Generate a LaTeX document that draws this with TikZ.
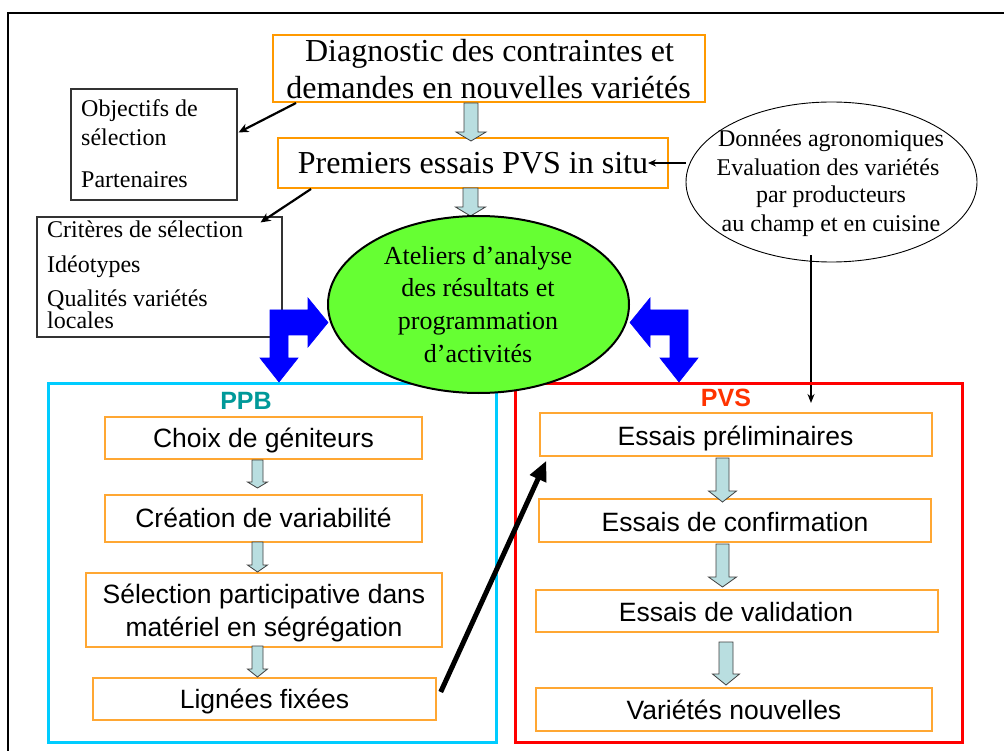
\documentclass[tikz,border=0pt]{standalone}
\usepackage{fontspec}
\setmainfont{Liberation Serif}
\setsansfont{Liberation Sans}
\usetikzlibrary{arrows.meta,calc,shapes.geometric}
\definecolor{topor}{HTML}{FF9900}
\definecolor{inor}{HTML}{FFA733}
\definecolor{ppbc}{HTML}{00CCFF}
\definecolor{ppbt}{HTML}{009999}
\definecolor{pvst}{HTML}{FF3300}
\definecolor{ellg}{HTML}{66FF33}
\definecolor{lbfill}{HTML}{B9DEE0}
\newcommand\rkBig{\fontsize{32}{37}\selectfont}
\newcommand\rkMed{\fontsize{24}{28}\selectfont}
\newcommand\rkEll{\fontsize{26}{32}\selectfont}
\newcommand\rkSans{\sffamily\fontsize{26.5}{33}\selectfont}
\newcommand\rkLab{\sffamily\bfseries\fontsize{25}{30}\selectfont}
\newcommand\rkDown[6]{\draw[lbarrow] ({#1-#5},#2) -- ({#1+#5},#2) -- ({#1+#5},#3) -- ({#1+#6},#3) -- (#1,#4) -- ({#1-#6},#3) -- ({#1-#5},#3) -- cycle;}
\begin{document}
\begin{tikzpicture}[x=1pt,y=-1pt,
  tl/.style={inner sep=0pt,anchor=base},
  tlw/.style={inner sep=0pt,anchor=base west},
  topbox/.style={draw=topor,line width=2pt,inner sep=0pt},
  inbox/.style={draw=inor,line width=1.4pt,inner sep=0pt},
  blkbox/.style={draw=black!80,line width=1.1pt,inner sep=0pt},
  lbarrow/.style={fill=lbfill,draw=black!75,line width=0.8pt,line join=miter},
  bluearrow/.style={fill=blue,draw=blue,line width=0.6pt,line join=miter},
  thin arrow/.style={draw=black,line width=2.2pt,-{Stealth[length=10pt,width=9pt]}},
  frame/.style={draw=ppbc,line width=3pt,inner sep=0pt}]
\useasboundingbox (0,0) rectangle (1004,751);
\clip (0,0) rectangle (1004,751);
\fill[white] (0,0) rectangle (1004,751);
\draw[line width=2.5pt] (8,770) -- (8,13) -- (1020,13);

% top boxes
\node[topbox,minimum width=432pt,minimum height=67pt] (diag) at (489,68.5) {};
\node[tl,font=\rkBig] (diag1) at (489.5,62) {Diagnostic des contraintes et};
\node[tl,font=\rkBig] (diag2) at (488.5,99) {demandes en nouvelles variétés};
\node[topbox,minimum width=390pt,minimum height=50pt] (prem) at (473,163) {};
\node[tl,font=\rkBig] (prem1) at (473,174) {Premiers essais PVS in situ};

% left boxes
\node[blkbox,minimum width=166pt,minimum height=111pt] (obj) at (154,144.5) {};
\node[tlw,font=\rkMed] (obj1) at (81,117) {Objectifs de};
\node[tlw,font=\rkMed] (obj2) at (81,146) {sélection};
\node[tlw,font=\rkMed] (obj3) at (81,188) {Partenaires};
\node[blkbox,minimum width=245pt,minimum height=120pt] (crit) at (159.5,277) {};
\node[tlw,font=\rkMed] (crit1) at (47,238) {Critères de sélection};
\node[tlw,font=\rkMed] (crit2) at (47,273) {Idéotypes};
\node[tlw,font=\rkMed] (crit3) at (47,307) {Qualités variétés};
\node[tlw,font=\rkMed] (crit4) at (47,328) {locales};

% thin arrows
\draw[thin arrow] ($(diag.south west)+(24,0)$) -- ($(obj.north east)+(1,44)$);
\draw[thin arrow] ($(prem.south west)+(34,0)$) -- ($(crit.north east)+(-22,6)$);

% light blue arrows top
\rkDown{471}{103}{132}{141}{7}{15}
\rkDown{470.5}{188}{207}{216}{7.5}{15}

% Donnees ellipse
\node[draw=black,line width=0.9pt,ellipse,minimum width=291pt,minimum height=160pt,inner sep=0pt] (don) at (831.5,182) {};
\node[tl,font=\rkMed] (don1) at (831,147) {Données agronomiques};
\node[tl,font=\rkMed] (don2) at (828,176) {Evaluation des variétés};
\node[tl,font=\rkMed] (don3) at (831,203) {par producteurs};
\node[tl,font=\rkMed] (don4) at (831,232) {au champ et en cuisine};
\draw[draw=black,line width=2pt,-{Stealth[length=8pt,width=7pt]}] (don.west |- prem.east) -- ($(prem.east)+(-21,0)$);
\draw[draw=black,line width=2pt,-{Stealth[length=9pt,width=7pt]}] ($(don.south)+(-20.5,-7)$) -- (811,403);

% frames
\node[frame,minimum width=448pt,minimum height=359pt] (ppb) at (272,562.5) {};
\node[frame,draw=red,minimum width=447pt,minimum height=359pt] (pvs) at (738.5,562.5) {};

% green ellipse
\node[draw=black,line width=2pt,fill=ellg,ellipse,minimum width=301pt,minimum height=177pt,inner sep=0pt] (atel) at (478.5,304.5) {};
\node[tl,font=\rkEll] (atel1) at (478,265) {Ateliers d’analyse};
\node[tl,font=\rkEll] (atel2) at (478,297) {des résultats et};
\node[tl,font=\rkEll] (atel3) at (478,330) {programmation};
\node[tl,font=\rkEll] (atel4) at (478,362) {d’activités};

% blue bent arrows
\draw[bluearrow] (270,310) -- (308,310) -- (308,298) -- (328,322.5) -- (308,347) -- (308,335) -- (288,335) -- (288,358) -- (298,358) -- (279,382) -- (260,358) -- (270,358) -- cycle;
\draw[bluearrow] (688,310) -- (650,310) -- (650,298) -- (630,322.5) -- (650,347) -- (650,335) -- (670,335) -- (670,358) -- (698,358) -- (679,382) -- (660,358) -- (688,358) -- cycle;

% PPB
\node[tl,font=\rkLab,text=ppbt] (ppbl) at (246,409) {PPB};
\node[inbox,minimum width=317pt,minimum height=42pt] (p1) at (263.5,438) {};
\node[tl,font=\rkSans] (p1t) at (263.5,447) {Choix de géniteurs};
\node[inbox,minimum width=317pt,minimum height=47pt] (p2) at (263.5,518.5) {};
\node[tl,font=\rkSans] (p2t) at (263.5,527) {Création de variabilité};
\node[inbox,minimum width=356pt,minimum height=74pt] (p3) at (264,610) {};
\node[tl,font=\rkSans] (p3t) at (264,603) {Sélection participative dans};
\node[tl,font=\rkSans] (p3u) at (264,636) {matériel en ségrégation};
\node[inbox,minimum width=343pt,minimum height=42pt] (p4) at (264.5,699) {};
\node[tl,font=\rkSans] (p4t) at (264.5,708) {Lignées fixées};
\rkDown{257.5}{460}{482}{488}{5.5}{10}
\rkDown{257.5}{542}{565}{572}{5.5}{10}
\rkDown{257.5}{646}{669}{677}{5.5}{10}

% PVS
\node[tl,font=\rkLab,text=pvst] (pvsl) at (726,406) {PVS};
\node[inbox,minimum width=392pt,minimum height=43pt] (v1) at (736,434.5) {};
\node[tl,font=\rkSans] (v1t) at (735.5,445) {Essais préliminaires};
\node[inbox,minimum width=392pt,minimum height=43pt] (v2) at (735,520.5) {};
\node[tl,font=\rkSans] (v2t) at (735,531) {Essais de confirmation};
\node[inbox,minimum width=402pt,minimum height=42pt] (v3) at (737,611) {};
\node[tl,font=\rkSans] (v3t) at (736,621) {Essais de validation};
\node[inbox,minimum width=396pt,minimum height=43pt] (v4) at (734,709.5) {};
\node[tl,font=\rkSans] (v4t) at (734,719) {Variétés nouvelles};
\rkDown{722.5}{458}{491}{502}{6.5}{14}
\rkDown{722.5}{544}{577}{587}{6.5}{14}
\rkDown{726}{642}{674}{685}{7}{13.5}

% thick arrow
\draw[line width=5pt,-{Triangle[length=20pt,width=17pt]}] ($(p4.east)+(4,-7)$) -- ($(v1.south west)+(7,4)$);
\end{tikzpicture}
\end{document}
